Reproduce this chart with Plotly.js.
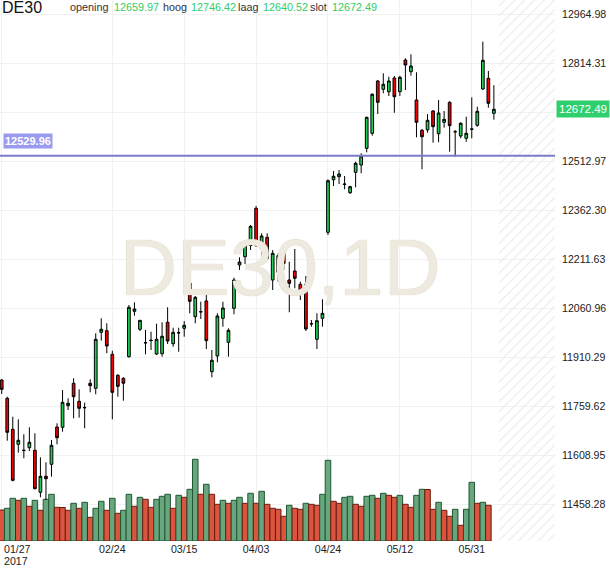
<!DOCTYPE html>
<html>
<head>
<meta charset="utf-8">
<script src="https://cdn.plot.ly/plotly-3.0.1.min.js"></script>
<style>
  html, body { margin: 0; padding: 0; background: #fff; }
  #chart { width: 610px; height: 568px; }
</style>
</head>
<body>
<div id="chart"></div>
<script>
// DE30 daily, 27 Jan - 6 Jun 2017
const dates = [
    '2017-01-27', '2017-01-30', '2017-01-31', '2017-02-01', '2017-02-02', '2017-02-03',
    '2017-02-06', '2017-02-07', '2017-02-08', '2017-02-09', '2017-02-10',
    '2017-02-13', '2017-02-14', '2017-02-15', '2017-02-16', '2017-02-17',
    '2017-02-20', '2017-02-21', '2017-02-22', '2017-02-23', '2017-02-24',
    '2017-02-27', '2017-02-28', '2017-03-01', '2017-03-02', '2017-03-03',
    '2017-03-06', '2017-03-07', '2017-03-08', '2017-03-09', '2017-03-10',
    '2017-03-13', '2017-03-14', '2017-03-15', '2017-03-16', '2017-03-17',
    '2017-03-20', '2017-03-21', '2017-03-22', '2017-03-23', '2017-03-24',
    '2017-03-27', '2017-03-28', '2017-03-29', '2017-03-30', '2017-03-31',
    '2017-04-03', '2017-04-04', '2017-04-05', '2017-04-06', '2017-04-07',
    '2017-04-10', '2017-04-11', '2017-04-12', '2017-04-13',
    '2017-04-18', '2017-04-19', '2017-04-20', '2017-04-21',
    '2017-04-24', '2017-04-25', '2017-04-26', '2017-04-27', '2017-04-28',
    '2017-05-02', '2017-05-03', '2017-05-04', '2017-05-05',
    '2017-05-08', '2017-05-09', '2017-05-10', '2017-05-11', '2017-05-12',
    '2017-05-15', '2017-05-16', '2017-05-17', '2017-05-18', '2017-05-19',
    '2017-05-22', '2017-05-23', '2017-05-24', '2017-05-25', '2017-05-26',
    '2017-05-29', '2017-05-30', '2017-05-31', '2017-06-01', '2017-06-02',
    '2017-06-05', '2017-06-06'
];

const opens = [
    11841.2, 11785.0, 11689.8, 11643.8, 11624.5, 11633.3, 11625.3, 11496.4, 11545.5, 11582.3,
    11696.9, 11696.0, 11762.3, 11831.1, 11775.8, 11756.9, 11831.1, 11815.7, 11987.6, 11992.6,
    11920.1, 11855.6, 11846.4, 11912.7, 12052.1, 11996.9, 11955.0, 11962.3, 11921.0, 11921.9,
    12018.4, 11952.6, 11985.6, 11999.9, 12139.0, 12035.5, 12050.1, 12083.8, 11866.7, 11914.9,
    12030.6, 11956.9, 12061.3, 12194.3, 12219.8, 12254.2, 12368.4, 12253.6, 12279.3, 12148.2,
    12171.9, 12243.4, 12148.2, 12175.9, 12135.0, 12135.0, 12013.3, 11966.2, 12030.6, 12294.7,
    12456.2, 12465.4, 12442.8, 12416.3, 12478.9, 12501.3, 12552.6, 12598.7, 12759.3, 12733.8,
    12726.4, 12768.5, 12726.4, 12823.7, 12787.8, 12700.9, 12607.9, 12609.2, 12667.1, 12597.4,
    12632.5, 12693.9, 12603.0, 12590.4, 12583.3, 12611.1, 12623.2, 12734.7, 12767.6, 12659.97
];
const highs = [
    11843.3, 11789.9, 11728.5, 11720.5, 11674.5, 11696.0, 11677.5, 11603.8, 11588.5, 11657.0,
    11708.2, 11810.5, 11785.0, 11846.4, 11812.6, 11771.5, 11843.3, 11984.6, 12030.6, 12015.3,
    11931.2, 11858.7, 11849.5, 12071.5, 12079.8, 12025.4, 11994.7, 11989.5, 12014.1, 12018.4,
    12064.4, 12001.8, 12001.8, 12022.3, 12156.5, 12099.1, 12081.6, 12109.2, 11933.3, 12046.0,
    12081.6, 11999.9, 12155.3, 12217.9, 12264.0, 12317.1, 12375.5, 12291.6, 12291.6, 12240.3,
    12230.2, 12247.4, 12204.4, 12243.4, 12143.0, 12160.5, 12025.4, 12046.0, 12089.0, 12457.4,
    12482.9, 12486.0, 12467.6, 12437.8, 12511.5, 12537.3, 12649.6, 12721.5, 12762.3, 12782.9,
    12772.5, 12774.6, 12775.5, 12829.0, 12841.2, 12786.0, 12611.9, 12657.9, 12670.2, 12700.9,
    12667.1, 12696.9, 12608.8, 12632.5, 12649.6, 12709.2, 12680.4, 12879.9, 12790.0, 12746.42
];
const lows = [
    11798.2, 11654.8, 11530.0, 11618.0, 11600.8, 11623.2, 11505.6, 11481.0, 11472.7, 11544.3,
    11643.8, 11682.4, 11749.1, 11723.6, 11725.4, 11692.9, 11803.4, 11797.3, 11961.9, 11923.2,
    11720.5, 11789.9, 11777.6, 11909.7, 12038.6, 11991.6, 11920.1, 11933.3, 11917.9, 11912.7,
    11951.7, 11943.4, 11928.1, 11974.1, 12046.0, 12015.3, 12028.5, 11936.4, 11849.5, 11895.5,
    12004.8, 11912.7, 12042.9, 12178.9, 12197.4, 12240.3, 12250.5, 12225.0, 12209.6, 12117.5,
    12143.0, 12178.9, 12049.1, 12122.7, 12086.8, 11991.6, 12004.8, 11936.4, 12004.8, 12286.4,
    12436.9, 12443.0, 12426.7, 12412.3, 12432.9, 12475.9, 12540.3, 12591.3, 12657.9, 12721.5,
    12713.2, 12661.9, 12713.2, 12731.6, 12775.5, 12586.4, 12488.1, 12600.5, 12569.8, 12571.0,
    12615.9, 12542.2, 12526.8, 12583.3, 12572.9, 12583.3, 12618.9, 12731.6, 12677.3, 12640.52
];
const closes = [
    11812.6, 11680.6, 11533.2, 11656.0, 11625.3, 11649.9, 11507.4, 11545.5, 11538.1, 11640.7,
    11664.0, 11772.7, 11769.6, 11789.9, 11754.3, 11756.1, 11823.7, 11966.2, 11996.9, 11945.6,
    11803.4, 11821.8, 11831.1, 12064.4, 12059.2, 12024.5, 11955.7, 11963.1, 11966.2, 11975.4,
    11960.9, 11987.6, 11986.4, 12009.1, 12082.8, 12095.1, 12050.9, 11961.9, 11901.7, 12037.7,
    12062.3, 11993.8, 12148.2, 12203.5, 12254.8, 12313.1, 12253.6, 12283.3, 12214.9, 12230.2,
    12222.8, 12199.5, 12138.1, 12153.5, 12107.4, 11997.8, 12014.1, 12023.3, 12046.0, 12453.1,
    12466.6, 12473.7, 12442.1, 12434.7, 12506.6, 12529.0, 12647.8, 12718.4, 12693.9, 12749.1,
    12759.3, 12711.1, 12770.6, 12808.4, 12805.3, 12632.5, 12588.2, 12638.6, 12618.9, 12661.0,
    12641.7, 12622.0, 12603.6, 12629.4, 12598.7, 12611.9, 12666.2, 12822.8, 12690.8, 12672.49
];
const volumes = [
    3100, 3270, 4270, 4070, 4270, 3470, 4070, 3070, 4170, 4670,
    3370, 3350, 3070, 3770, 3270, 3870, 2370, 3270, 3970, 3070,
    4270, 2770, 3070, 4670, 3470, 4370, 4170, 3370, 4170, 4470,
    4670, 3270, 4570, 4370, 5170, 8170, 4670, 5670, 4670, 3670,
    4070, 3770, 4070, 4370, 3770, 4770, 3770, 4970, 3670, 3270,
    3170, 2470, 3570, 3270, 3170, 3770, 3670, 3570, 4670, 8070,
    3970, 3770, 4370, 4470, 3670, 3470, 4470, 4570, 4270, 4770,
    4570, 4370, 4570, 3670, 3370, 4570, 5170, 5150, 3170, 3870,
    3070, 2470, 3170, 1570, 3170, 5870, 3770, 3870, 3570, null
];

const linePrice = 12529.96;
const priceTicks = [11458.28, 11608.95, 11759.62, 11910.29, 12060.96, 12211.63,
                    12362.30, 12512.97, 12663.63, 12814.31, 12964.98];
const tickDates = ['2017-01-27', '2017-02-24', '2017-03-15', '2017-04-03', '2017-04-24', '2017-05-12', '2017-05-31'];
const tickLabels = ['', '02/24', '03/15', '04/03', '04/24', '05/12', '05/31'];

const N = dates.length;
const last = N - 1;
const FONT = 'Liberation Sans, Arial, sans-serif';
const GREEN_TXT = '#2fce68';
const TICK_SIZE = 10.6;

// volume coloured by change vs previous bar
const volFill = volumes.map((v, i) => (i > 0 && v > volumes[i - 1]) ? '#68a77e' : '#d9553f');
const volLine = volumes.map((v, i) => (i > 0 && v > volumes[i - 1]) ? '#1f5633' : '#6b1a0f');

const xRange = [-0.31, 100.05];

const traces = [
    {
        type: 'bar',
        x: dates,
        y: volumes,
        xaxis: 'x', yaxis: 'y',
        marker: { color: volFill, line: { color: volLine, width: 1 } },
        hoverinfo: 'skip'
    },
    {
        type: 'candlestick',
        x: dates,
        open: opens, high: highs, low: lows, close: closes,
        xaxis: 'x', yaxis: 'y2',
        whiskerwidth: 0,
        increasing: { fillcolor: '#22cc55', line: { color: '#000', width: 1 } },
        decreasing: { fillcolor: '#f00000', line: { color: '#000', width: 1 } },
        hoverinfo: 'skip'
    },
    {
        // hatched "future" area after the last candle
        type: 'bar',
        x: [(N - 0.1 + xRange[1]) / 2],
        y: [1],
        width: [xRange[1] - (N - 0.1)],
        xaxis: 'x2', yaxis: 'y3',
        marker: {
            color: 'rgba(0,0,0,0)',
            line: { width: 0 },
            pattern: { shape: '/', fgcolor: '#e9e9e9', bgcolor: 'rgba(0,0,0,0)', size: 7, solidity: 0.15 }
        },
        hoverinfo: 'skip'
    }
];

const hdrY = 1 - 7 / 541;
const px = v => v / 555;
const headerParts = [
    ['opening', 69, '#333'], [opens[last].toFixed(2), 113, GREEN_TXT],
    ['hoog', 162, '#333'], [highs[last].toFixed(2), 190, GREEN_TXT],
    ['laag', 237, '#333'], [lows[last].toFixed(2), 262, GREEN_TXT],
    ['slot', 309, '#333'], [closes[last].toFixed(2), 331, GREEN_TXT]
];

const annotations = [
    {
        text: 'DE30,1D', xref: 'paper', yref: 'paper', x: px(280), y: 1 - 267 / 541,
        xanchor: 'center', yanchor: 'middle', showarrow: false,
        font: { family: FONT, size: 79, color: '#eeeadf', shadow: '0 0 1px #c6bca2' }
    },
    {
        text: 'DE30', xref: 'paper', yref: 'paper', x: 0, y: hdrY,
        xanchor: 'left', yanchor: 'middle', showarrow: false,
        font: { family: FONT, size: 16, color: '#111' }
    },
    ...headerParts.map(([t, x, c]) => ({
        text: t, xref: 'paper', yref: 'paper', x: px(x), y: hdrY,
        xanchor: 'left', yanchor: 'middle', xshift: -1, showarrow: false,
        font: { family: FONT, size: 10.8, color: c }
    })),
    {
        text: linePrice.toFixed(2), xref: 'paper', yref: 'y2', x: px(3), y: linePrice,
        xanchor: 'left', yanchor: 'middle', yshift: 15, showarrow: false,
        bgcolor: '#9a9af0', borderpad: 1,
        font: { family: FONT, size: 11, color: '#fff', weight: 'bold' }
    },
    {
        text: closes[last].toFixed(2), xref: 'paper', yref: 'y2', x: 1, y: closes[last],
        xanchor: 'left', yanchor: 'middle', xshift: 1, showarrow: false,
        bgcolor: '#2ecf6c', borderpad: 2,
        font: { family: FONT, size: 11.5, color: '#fff' }
    },
    {
        text: '01/27', xref: 'x', yref: 'paper', x: dates[0], y: -8 / 541,
        xanchor: 'left', yanchor: 'middle', showarrow: false,
        font: { family: FONT, size: TICK_SIZE, color: '#222' }
    },
    {
        text: '2017', xref: 'x', yref: 'paper', x: dates[0], y: -20 / 541,
        xanchor: 'left', yanchor: 'middle', showarrow: false,
        font: { family: FONT, size: TICK_SIZE, color: '#222' }
    }
];

const layout = {
    width: 610,
    height: 568,
    margin: { l: 0, r: 55, t: 0, b: 27 },
    paper_bgcolor: '#fff',
    plot_bgcolor: '#fff',
    showlegend: false,
    bargap: 0,
    font: { family: FONT, size: 12, color: '#222' },
    xaxis: {
        type: 'category',
        range: xRange,
        rangeslider: { visible: false },
        tickvals: tickDates,
        ticktext: tickLabels,
        ticks: '',
        showgrid: true,
        gridcolor: '#f1f1f1',
        zeroline: false,
        showline: false,
        tickfont: { family: FONT, size: TICK_SIZE, color: '#222' }
    },
    xaxis2: {
        overlaying: 'x', range: xRange, visible: false, type: 'linear'
    },
    yaxis: {
        range: [0, 54100], visible: false, fixedrange: true
    },
    yaxis2: {
        overlaying: 'y',
        side: 'right',
        range: [11346.83, 13007.97],
        tickvals: priceTicks,
        // the tick under the last-price badge stays as a gridline only
        ticktext: priceTicks.map(v => Math.abs(v - closes[last]) < 20 ? '' : v.toFixed(2)),
        ticks: '',
        ticklabelstandoff: 6,
        showgrid: true,
        gridcolor: '#f1f1f1',
        zeroline: false,
        showline: false,
        tickfont: { family: FONT, size: TICK_SIZE, color: '#222' }
    },
    yaxis3: {
        overlaying: 'y', range: [0, 1], visible: false
    },
    shapes: [
        {
            type: 'line', xref: 'paper', yref: 'y2', x0: 0, x1: 1, y0: linePrice, y1: linePrice,
            line: { color: '#7c7cc6', width: 2 }
        }
    ],
    annotations: annotations
};

Plotly.newPlot('chart', traces, layout, { displayModeBar: false, staticPlot: true });
</script>
</body>
</html>
